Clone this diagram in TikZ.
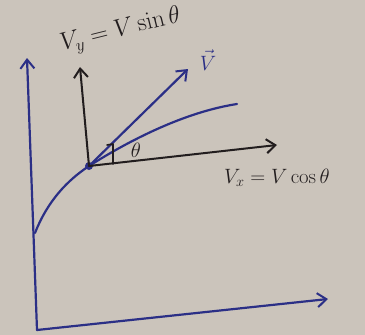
\documentclass[tikz,border=0pt]{standalone}
\usetikzlibrary{arrows.meta}
\definecolor{paper}{HTML}{CBC4BB}
\definecolor{bluepen}{HTML}{2B2F86}
\definecolor{blackpen}{HTML}{221D1E}
\tikzset{
  bpen/.style={draw=bluepen, line width=2.2pt, line cap=round, line join=round},
  kpen/.style={draw=blackpen, line width=2pt, line cap=round, line join=round},
  tip/.style={-{Straight Barb[length=9pt,width=14pt,line width=2pt]}},
  lbl/.style={inner sep=0pt, font=\fontsize{22}{24}\selectfont}
}
\begin{document}
\begin{tikzpicture}[x=1pt,y=-1pt]
\fill[paper] (0,0) rectangle (365,335);
\useasboundingbox (0,0) rectangle (365,335);
% axes
\coordinate (orig) at (37,330);
\coordinate (ytip) at (27,58);
\coordinate (xtip) at (328,299);
\draw[bpen,tip] (orig) -- (ytip);
\draw[bpen,tip] (orig) -- (xtip);
% trajectory
\coordinate (c0) at (35,233);
\coordinate (P) at (89,166);
\coordinate (c1) at (237,104);
\draw[bpen] (c0) .. controls (48,200) and (68,180) .. (P)
  .. controls (130,140) and (185,112) .. (c1);
% velocity vector
\coordinate (vtip) at (188,69);
\draw[bpen,tip] (P) -- (vtip);
\fill[bluepen] (P) circle (4pt);
% components
\coordinate (vytip) at (80,67);
\coordinate (vxtip) at (277,145);
\draw[kpen,tip] (P) -- (vytip);
\draw[kpen,tip] (P) -- (vxtip);
% angle mark
\coordinate (m1) at (113,164);
\coordinate (m2) at (113,144);
\coordinate (m3) at (107,145);
\draw[kpen,line width=1.6pt] (m1) -- (m2) -- (m3);
\node[lbl,text=blackpen] (th) at (136,150) {$\theta$};
% labels
\node[lbl,text=bluepen] (vlab) at (208,60) {$\vec{V}$};
\node[lbl,text=blackpen,rotate=14,anchor=south west,font=\fontsize{25}{27}\selectfont] (vylab) at (64,58) {$V_y = V\sin\theta$};
\node[lbl,text=blackpen,anchor=west] (vxlab) at (224,178) {$V_x = V\cos\theta$};
\end{tikzpicture}
\end{document}
